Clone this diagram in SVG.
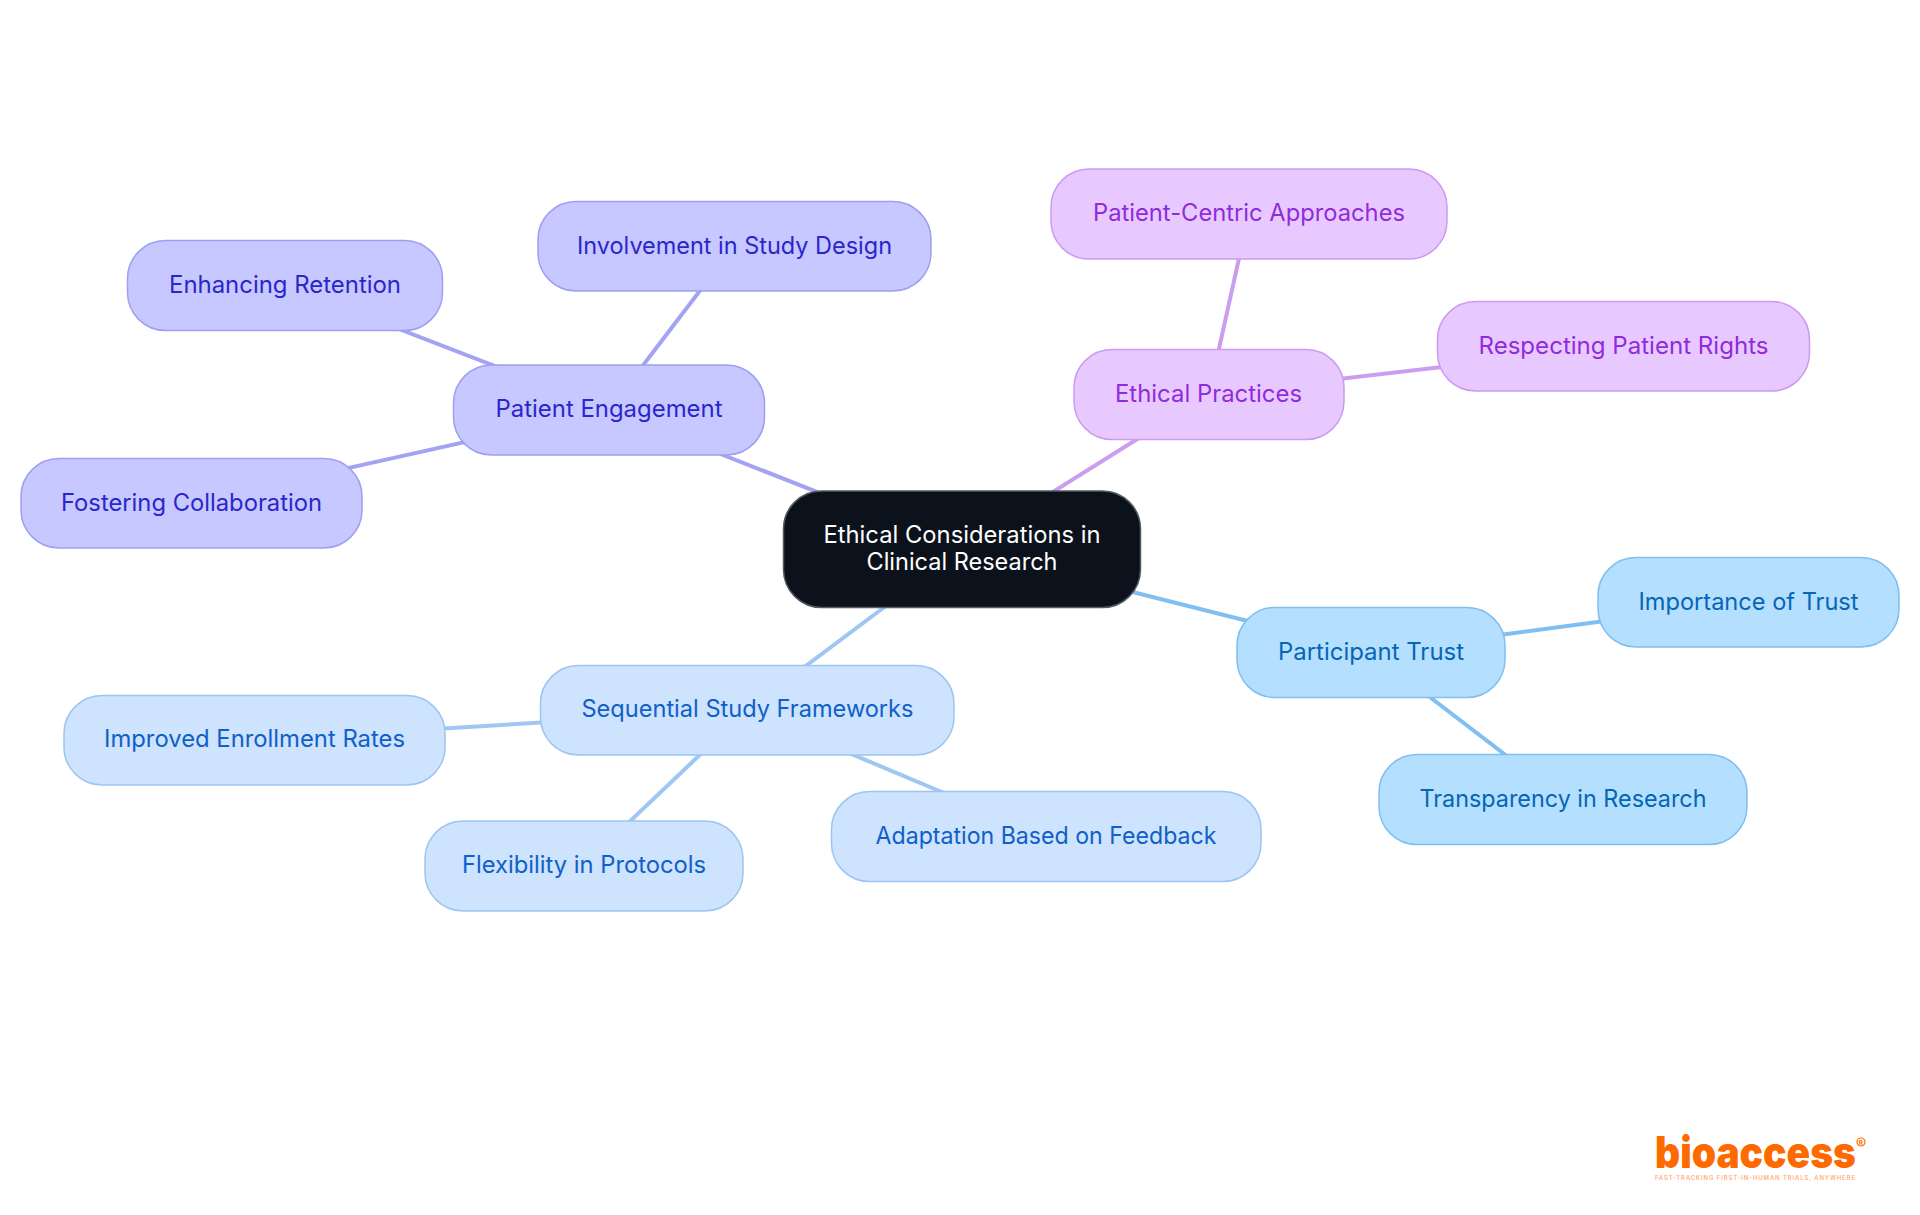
<svg xmlns="http://www.w3.org/2000/svg" width="1920" height="1215" viewBox="0 0 1920 1215">
<style>
text{font-family:"Inter","Noto Sans","Liberation Sans",sans-serif;font-size:24px;font-weight:380;text-anchor:middle}
.n rect{stroke-width:1.5}
.c line{stroke-width:4;fill:none}
.i rect{fill:#c7c8ff;stroke:#9e9ef2}.i text{fill:#2a26cc}
.p rect{fill:#e8c9ff;stroke:#cc9bef}.p text{fill:#8f2bdc}
.b rect{fill:#b5dfff;stroke:#7fbff0}.b text{fill:#0466b5}
.s rect{fill:#cee3fd;stroke:#9dc5f2}.s text{fill:#0f60c8}
</style>
<rect width="1920" height="1215" fill="#fff"/>
<g id="connectors" class="c">
<g stroke="#a3a3f3">
<line x1="962" y1="549" x2="609" y2="410"/><line x1="609" y1="410" x2="285" y2="285"/><line x1="609" y1="410" x2="734" y2="246"/><line x1="609" y1="410" x2="191" y2="503"/>
</g>
<g stroke="#cb9df0">
<line x1="962" y1="549" x2="1209" y2="394"/><line x1="1209" y1="394" x2="1249" y2="213"/><line x1="1209" y1="394" x2="1623" y2="346"/>
</g>
<g stroke="#80bff2">
<line x1="962" y1="549" x2="1371" y2="652"/><line x1="1371" y1="652" x2="1748" y2="602"/><line x1="1371" y1="652" x2="1563" y2="799"/>
</g>
<g stroke="#9fc7f3">
<line x1="962" y1="549" x2="747" y2="710"/><line x1="747" y1="710" x2="254" y2="740"/><line x1="747" y1="710" x2="584" y2="865"/><line x1="747" y1="710" x2="1046" y2="836"/>
</g>
</g>
<g id="root" class="n"><rect x="783.5" y="491" width="357" height="116.5" rx="38" fill="#0b121b" stroke="#555a60"/>
<text x="962" y="543" fill="#fff" textLength="277" lengthAdjust="spacingAndGlyphs">Ethical Considerations in</text><text x="962" y="570" fill="#fff" textLength="191" lengthAdjust="spacingAndGlyphs">Clinical Research</text></g>
<g id="patient-engagement" class="n i"><rect x="453.5" y="365" width="311" height="90" rx="38"/><text x="609" y="417" textLength="227" lengthAdjust="spacingAndGlyphs">Patient Engagement</text></g>
<g id="enhancing-retention" class="n i"><rect x="127.5" y="240.5" width="315" height="90" rx="38"/><text x="285" y="293" textLength="232" lengthAdjust="spacingAndGlyphs">Enhancing Retention</text></g>
<g id="involvement" class="n i"><rect x="538" y="201.5" width="393" height="89.5" rx="38"/><text x="734.5" y="254" textLength="315" lengthAdjust="spacingAndGlyphs">Involvement in Study Design</text></g>
<g id="fostering" class="n i"><rect x="21" y="458.5" width="341" height="89.5" rx="38"/><text x="191.500" y="511" textLength="261" lengthAdjust="spacingAndGlyphs">Fostering Collaboration</text></g>
<g id="ethical-practices" class="n p"><rect x="1074" y="349.500" width="270" height="90" rx="38"/><text x="1208.500" y="402" textLength="187" lengthAdjust="spacingAndGlyphs">Ethical Practices</text></g>
<g id="patient-centric" class="n p"><rect x="1051" y="169" width="396" height="90" rx="38"/><text x="1249" y="221" textLength="312" lengthAdjust="spacingAndGlyphs">Patient-Centric Approaches</text></g>
<g id="respecting" class="n p"><rect x="1437.500" y="301.500" width="372" height="89.500" rx="38"/><text x="1623.500" y="354" textLength="290" lengthAdjust="spacingAndGlyphs">Respecting Patient Rights</text></g>
<g id="participant-trust" class="n b"><rect x="1237" y="607.500" width="268" height="90" rx="38"/><text x="1371" y="660" textLength="186" lengthAdjust="spacingAndGlyphs">Participant Trust</text></g>
<g id="importance" class="n b"><rect x="1598" y="557.500" width="301" height="89.500" rx="38"/><text x="1748.500" y="610" textLength="220" lengthAdjust="spacingAndGlyphs">Importance of Trust</text></g>
<g id="transparency" class="n b"><rect x="1379" y="754.500" width="368" height="90" rx="38"/><text x="1563" y="807" textLength="287" lengthAdjust="spacingAndGlyphs">Transparency in Research</text></g>
<g id="sequential" class="n s"><rect x="540.500" y="665.500" width="413.500" height="89.500" rx="38"/><text x="747.500" y="717" textLength="332" lengthAdjust="spacingAndGlyphs">Sequential Study Frameworks</text></g>
<g id="improved" class="n s"><rect x="64" y="695.500" width="381" height="89.500" rx="38"/><text x="254.500" y="747" textLength="301" lengthAdjust="spacingAndGlyphs">Improved Enrollment Rates</text></g>
<g id="flexibility" class="n s"><rect x="425" y="821" width="318" height="90" rx="38"/><text x="584" y="873" textLength="244" lengthAdjust="spacingAndGlyphs">Flexibility in Protocols</text></g>
<g id="adaptation" class="n s"><rect x="831.500" y="791.500" width="429.500" height="90" rx="38"/><text x="1046" y="844" textLength="341" lengthAdjust="spacingAndGlyphs">Adaptation Based on Feedback</text></g>
<g id="logo">
<text x="1755.500" y="1167.500" fill="#ff6a00" style="font-size:44px;font-weight:900" textLength="201" lengthAdjust="spacingAndGlyphs">bioaccess</text>
<text x="1755" y="1180" fill="#ffa469" style="font-size:6px;font-weight:500" textLength="200" lengthAdjust="spacing">FAST-TRACKING FIRST-IN-HUMAN TRIALS, ANYWHERE</text>
<circle cx="1861" cy="1142" r="4" fill="none" stroke="#ff6a00" stroke-width="1.200"/>
<text x="1861" y="1144.500" fill="#ff6a00" style="font-size:6.500px;font-weight:700">R</text>
</g>
</svg>
